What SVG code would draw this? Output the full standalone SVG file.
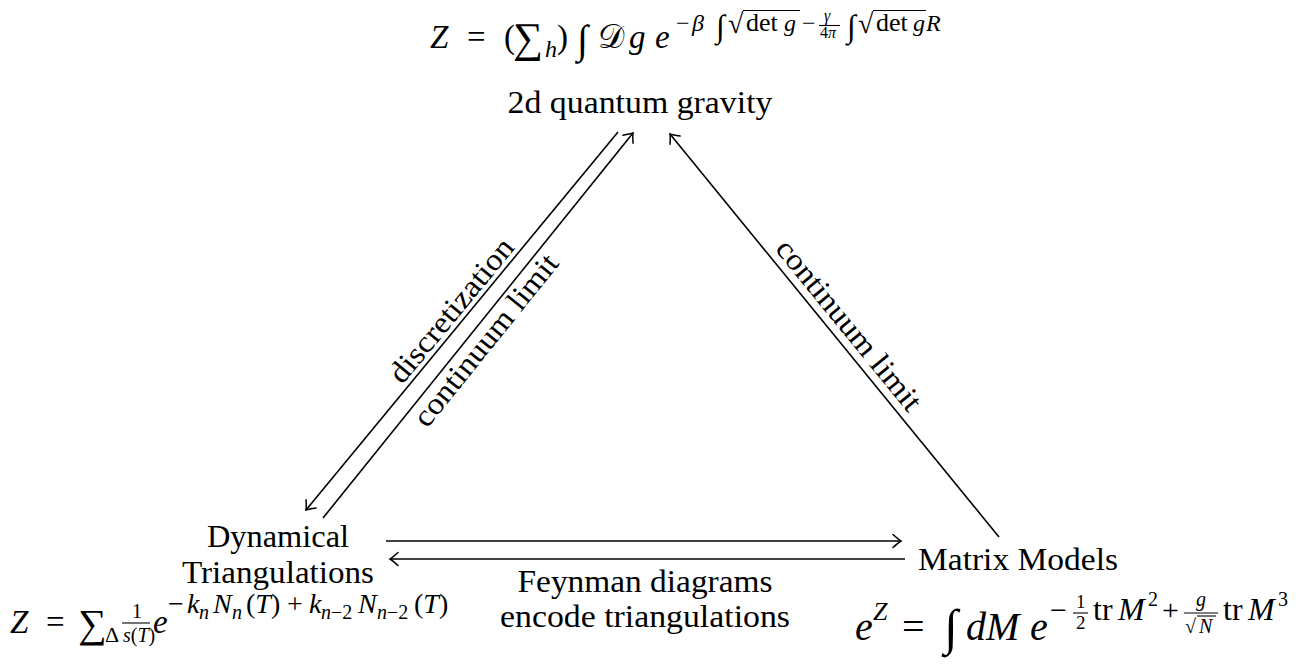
<svg xmlns="http://www.w3.org/2000/svg" width="1307" height="664" viewBox="0 0 1307 664">
<style>
text{font-family:"Liberation Serif","DejaVu Serif",serif;fill:#000}
.t{font-size:30.5px}
.i{font-style:italic}
.m{font-size:33px}
.s{font-size:24px}
.sl{font-size:28px}
.ss{font-size:20px}
.ln{stroke:#000;stroke-width:1.6;fill:none}
.bar{stroke:#000;stroke-width:1.1}
</style>
<defs>
<marker id="arr" markerUnits="userSpaceOnUse" orient="auto" overflow="visible" markerWidth="12" markerHeight="12" refX="0" refY="0">
<path d="M-8,-6.5 Q-2.5,-1.5 0,0 Q-2.5,1.5 -8,6.5" fill="none" stroke="#000" stroke-width="1.5" stroke-linecap="round"/>
</marker>
</defs>

<g id="connectors">
<line class="ln" x1="618" y1="132" x2="306" y2="510" marker-end="url(#arr)"/>
<line class="ln" x1="323" y1="518" x2="633" y2="133" marker-end="url(#arr)"/>
<line class="ln" x1="999" y1="537" x2="670" y2="134" marker-end="url(#arr)"/>
<line class="ln" x1="386" y1="541" x2="901" y2="541" marker-end="url(#arr)"/>
<line class="ln" x1="905" y1="559" x2="390" y2="559" marker-end="url(#arr)"/>
<text class="t" transform="translate(462.8,319.9) rotate(-50.44)" x="0" y="-5" text-anchor="middle" textLength="178" lengthAdjust="spacingAndGlyphs">discretization</text>
<text class="t" transform="translate(474,330.7) rotate(-51.15)" x="0" y="25" text-anchor="middle" textLength="212" lengthAdjust="spacingAndGlyphs">continuum limit</text>
<text class="t" transform="translate(835.1,336.4) rotate(50.76)" x="0" y="-8" text-anchor="middle" textLength="212" lengthAdjust="spacingAndGlyphs">continuum limit</text>
<text class="t" x="645" y="592" text-anchor="middle" textLength="255" lengthAdjust="spacingAndGlyphs">Feynman diagrams</text>
<text class="t" x="645" y="627" text-anchor="middle" textLength="290" lengthAdjust="spacingAndGlyphs">encode triangulations</text>
</g>

<g id="node-gravity">
<text class="t" x="640" y="113" text-anchor="middle" textLength="265" lengthAdjust="spacingAndGlyphs">2d quantum gravity</text>
<g id="formula-top">
<text class="m i" x="430" y="48">Z</text>
<text class="m" x="467" y="48">=</text>
<text class="m" x="504" y="48">(</text>
<text x="513" y="52" font-size="42">∑</text>
<text class="s i" x="545" y="57">h</text>
<text class="m" x="557" y="48">)</text>
<text x="577" y="53" font-size="40">∫</text>
<text class="m" x="598" y="48" font-family="DejaVu Serif, DejaVu Sans, serif">𝒟</text>
<text class="m i" x="629" y="48">g</text>
<text class="m i" x="655" y="48">e</text>
<text class="s" x="676" y="31">−</text>
<text class="s i" x="692" y="31">β</text>
<text x="716" y="37" font-size="32">∫</text>
<text x="728" y="33" font-size="28">√</text>
<line class="bar" x1="743" y1="10.5" x2="800" y2="10.5"/>
<text x="746" y="31" font-size="26">det</text>
<text class="s i" x="784" y="31">g</text>
<text class="s" x="802" y="31">−</text>
<text class="i" x="824" y="21" font-size="16">γ</text>
<line class="bar" x1="819" y1="25.5" x2="840" y2="25.5"/>
<text x="820" y="38" font-size="16">4<tspan class="i">π</tspan></text>
<text x="847" y="37" font-size="32">∫</text>
<text x="858" y="33" font-size="28">√</text>
<line class="bar" x1="873" y1="10.5" x2="926" y2="10.5"/>
<text x="876" y="31" font-size="26">det</text>
<text class="s i" x="913" y="31">g</text>
<text class="s i" x="926" y="31">R</text>
</g>
</g>

<g id="node-triangulations">
<text class="t" x="278" y="547" text-anchor="middle" textLength="142" lengthAdjust="spacingAndGlyphs">Dynamical</text>
<text class="t" x="278" y="583" text-anchor="middle" textLength="192" lengthAdjust="spacingAndGlyphs">Triangulations</text>
<g id="formula-left">
<text class="m i" x="10" y="633">Z</text>
<text class="m" x="46" y="633">=</text>
<text x="78" y="637" font-size="40">∑</text>
<text x="105" y="642" font-size="22">Δ</text>
<text x="132" y="618" font-size="20">1</text>
<line class="bar" x1="122" y1="623" x2="150" y2="623"/>
<text x="123" y="642" font-size="20"><tspan class="i">s</tspan>(<tspan class="i">T</tspan>)</text>
<text class="m i" x="153" y="633">e</text>
<text class="sl" x="168" y="613">−</text>
<text class="sl i" x="187" y="613">k</text>
<text class="ss i" x="199" y="619">n</text>
<text class="sl i" x="213" y="613">N</text>
<text class="ss i" x="232" y="619">n</text>
<text class="sl" x="246" y="613">(<tspan class="i">T</tspan>)</text>
<text class="sl" x="287" y="613">+</text>
<text class="sl i" x="309" y="613">k</text>
<text class="ss" x="321" y="619"><tspan class="i">n</tspan>−2</text>
<text class="sl i" x="358" y="613">N</text>
<text class="ss" x="377" y="619"><tspan class="i">n</tspan>−2</text>
<text class="sl" x="414" y="613">(<tspan class="i">T</tspan>)</text>
</g>
</g>

<g id="node-matrix">
<text class="t" x="918" y="570" textLength="200" lengthAdjust="spacingAndGlyphs">Matrix Models</text>
<g id="formula-right">
<text class="i" x="855" y="640" font-size="40">e</text>
<text class="i" x="873" y="620" font-size="26">Z</text>
<text x="902" y="640" font-size="40">=</text>
<text x="944" y="644" font-size="50">∫</text>
<text class="i" x="966" y="640" font-size="40">dM</text>
<text class="i" x="1030" y="640" font-size="40">e</text>
<text x="1050" y="620" font-size="30">−</text>
<text x="1076" y="608" font-size="19">1</text>
<line class="bar" x1="1073" y1="613" x2="1088" y2="613"/>
<text x="1076" y="629" font-size="19">2</text>
<text x="1093" y="620" font-size="32">tr</text>
<text class="i" x="1118" y="620" font-size="32">M</text>
<text x="1148" y="606" font-size="20">2</text>
<text x="1162" y="620" font-size="30">+</text>
<text class="i" x="1196" y="606" font-size="20">g</text>
<line class="bar" x1="1184" y1="613" x2="1218" y2="613"/>
<text x="1185" y="633" font-size="20">√</text>
<text class="i" x="1199" y="633" font-size="20">N</text>
<line class="bar" x1="1197" y1="616" x2="1216" y2="616"/>
<text x="1223" y="620" font-size="32">tr</text>
<text class="i" x="1248" y="620" font-size="32">M</text>
<text x="1278" y="606" font-size="20">3</text>
</g>
</g>
</svg>
